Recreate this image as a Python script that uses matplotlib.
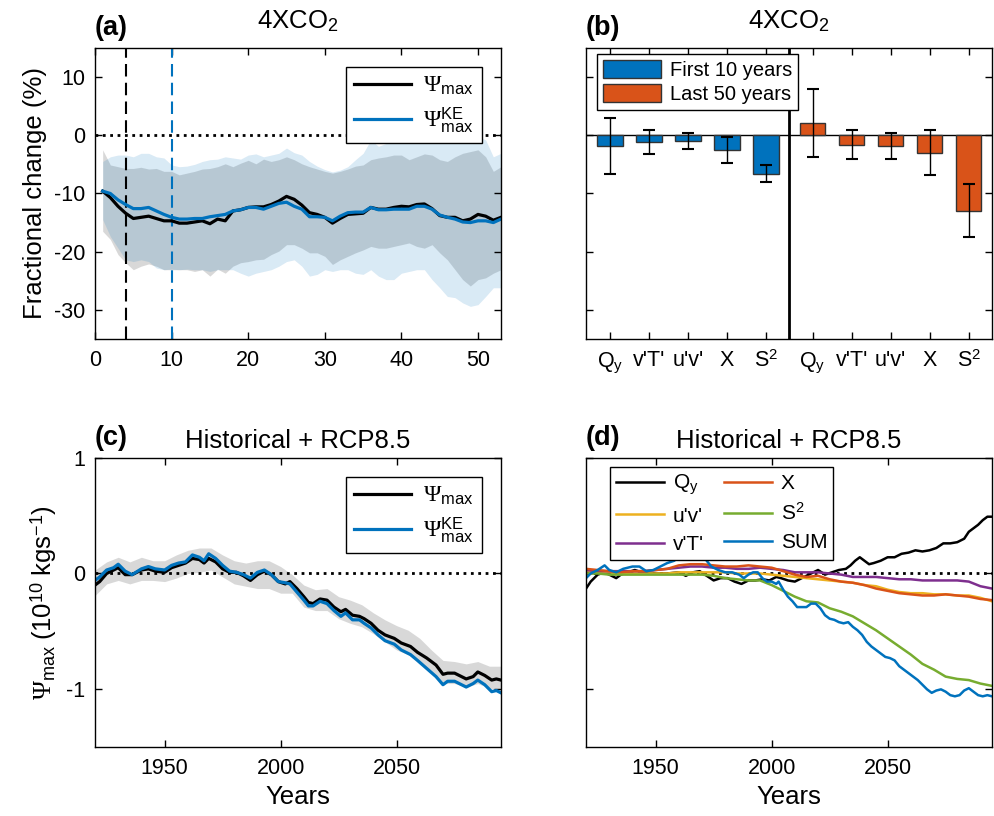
import numpy as np
import matplotlib
matplotlib.use('Agg')
import matplotlib.pyplot as plt

# fonts: sans text, serif Psi (mathtext rm), sans in \mathsf
plt.rcParams['font.family'] = 'Liberation Sans'
plt.rcParams['mathtext.fontset'] = 'custom'
plt.rcParams['mathtext.rm'] = 'Liberation Serif'
plt.rcParams['mathtext.it'] = 'Liberation Serif:italic'
plt.rcParams['mathtext.sf'] = 'Liberation Sans'
plt.rcParams['axes.unicode_minus'] = False
plt.rcParams['axes.linewidth'] = 1.0

BLUE = '#0072BD'
ORANGE = '#D95319'
YELLOW = '#EDB120'
PURPLE = '#7E2F8E'
GREEN = '#77AC30'

# ---------------- panel (a): 4XCO2 fractional change, years 1..53
years_a = np.arange(1, 54)
psi_a = [-9.6, -10.7, -12.2, -13.4, -14.3, -14.1, -13.9, -14.3, -14.7, -14.7,
         -15.1, -15.1, -14.9, -14.7, -15.2, -14.4, -14.7, -13.0, -12.8, -12.4,
         -12.3, -12.3, -11.9, -11.3, -10.5, -11.0, -12.0, -13.3, -13.6, -14.1,
         -15.1, -14.3, -13.6, -13.5, -13.4, -12.4, -12.7, -12.7, -12.4, -12.2,
         -12.3, -11.9, -11.8, -12.6, -13.8, -14.1, -14.1, -14.7, -14.4, -13.6,
         -13.9, -14.6, -14.1]
psi_ke_a = [-9.6, -10.0, -11.1, -11.9, -12.6, -12.6, -12.4, -13.0, -13.6, -14.1,
            -14.4, -14.4, -14.3, -14.3, -14.0, -13.8, -13.6, -13.0, -12.8, -12.4,
            -12.4, -12.7, -12.2, -11.7, -11.5, -12.2, -12.7, -14.0, -14.0, -14.1,
            -14.7, -13.9, -13.3, -13.2, -13.2, -12.4, -12.8, -12.8, -12.7, -12.7,
            -12.7, -12.2, -12.2, -12.7, -13.7, -14.1, -14.4, -14.9, -15.0, -14.7,
            -14.7, -15.0, -14.4]
psi_hi_a = [-2.5, -5.1, -5.4, -5.7, -5.7, -5.5, -5.8, -5.7, -6.2, -6.2,
            -6.8, -6.5, -6.2, -5.8, -5.7, -5.4, -4.9, -5.4, -4.8, -4.3,
            -4.9, -4.1, -4.5, -4.2, -3.7, -4.2, -4.9, -5.4, -5.8, -6.2,
            -6.5, -6.2, -5.8, -5.3, -5.1, -4.2, -3.9, -3.7, -3.4, -3.4,
            -4.2, -3.7, -3.2, -3.4, -4.2, -4.5, -3.7, -3.1, -2.8, -2.5,
            -3.7, -6.2, -5.4]
psi_lo_a = [-16.5, -17.9, -20.5, -21.9, -23.1, -22.5, -22.1, -22.5, -23.1, -23.1,
            -23.1, -23.1, -23.4, -23.1, -24.2, -23.0, -23.7, -22.5, -21.9, -21.7,
            -21.4, -21.3, -20.5, -19.9, -18.8, -18.8, -19.4, -20.2, -20.2, -20.8,
            -22.2, -21.4, -20.8, -20.2, -19.7, -19.1, -19.4, -19.4, -19.1, -18.8,
            -18.5, -19.1, -19.4, -18.8, -20.2, -21.4, -23.1, -24.8, -25.9, -24.8,
            -24.5, -23.7, -23.1]
ke_hi_a = [-4.5, -3.7, -3.4, -3.4, -3.7, -3.1, -3.1, -3.7, -3.9, -5.1,
           -5.4, -5.3, -5.0, -4.5, -4.2, -4.1, -3.7, -3.9, -4.1, -3.4,
           -3.2, -3.7, -3.4, -3.1, -2.2, -3.0, -3.4, -4.5, -5.3, -5.9,
           -6.3, -6.0, -5.4, -4.2, -3.1, -0.8, -1.9, -1.4, -0.8, -0.2,
           -0.8, -0.8, -0.8, -0.7, -1.1, -0.8, -1.4, -0.8, 0.1, -0.2,
           -0.8, -3.7, -3.1]
ke_lo_a = [-14.5, -17.4, -19.4, -21.4, -21.7, -21.4, -21.7, -22.8, -23.1, -23.0,
           -23.1, -23.0, -23.1, -23.1, -23.4, -23.1, -23.1, -23.1, -23.7, -24.2,
           -23.7, -23.4, -23.1, -22.5, -21.7, -21.4, -22.5, -24.2, -23.9, -23.1,
           -23.4, -23.1, -23.1, -23.7, -23.9, -23.1, -24.2, -24.8, -24.8, -23.7,
           -23.4, -23.1, -23.1, -24.8, -26.2, -27.7, -27.9, -28.8, -29.4, -29.1,
           -27.7, -26.2, -26.2]

# ---------------- panel (b): bar decomposition
terms = [r'$\mathsf{Q}_{\mathsf{y}}$', "v'T'", "u'v'", 'X', r'$\mathsf{S}^{\mathsf{2}}$']
first10 = [-1.8, -1.15, -1.0, -2.57, -6.57]
first10_err = [4.85, 2.1, 1.35, 2.2, 1.5]
last50 = [2.1, -1.6, -1.83, -2.97, -13.0]
last50_err = [5.9, 2.5, 2.2, 3.8, 4.55]

# ---------------- panel (c): historical + RCP8.5
years_c = [1920, 1922, 1925, 1928, 1930, 1933, 1936, 1940, 1943, 1946,
           1950, 1953, 1956, 1959, 1962, 1965, 1967, 1969, 1972, 1975,
           1978, 1981, 1984, 1987, 1990, 1993, 1996, 1999, 2002,
           2004, 2007, 2010, 2012, 2014, 2017, 2020, 2023, 2026, 2028,
           2031, 2034, 2036, 2039, 2042, 2045, 2049, 2052, 2056, 2059,
           2063, 2067, 2070, 2072, 2075, 2078, 2080, 2083, 2085, 2088,
           2091, 2093, 2095]
psi_c = [-0.10, -0.07, 0.0, 0.03, 0.05, -0.01, -0.01, 0.03, 0.04, 0.02,
         0.01, 0.05, 0.07, 0.09, 0.13, 0.12, 0.09, 0.13, 0.10, 0.04,
         0.01, 0.01, -0.02, -0.06, -0.01, 0.02, -0.01, -0.07, -0.09,
         -0.07, -0.13, -0.20, -0.25, -0.26, -0.22, -0.23, -0.29, -0.33, -0.31,
         -0.36, -0.37, -0.39, -0.43, -0.49, -0.53, -0.56, -0.60, -0.63, -0.68,
         -0.73, -0.79, -0.87, -0.86, -0.86, -0.89, -0.91, -0.89, -0.85, -0.88,
         -0.92, -0.91, -0.92]
psi_ke_c = [-0.06, -0.03, 0.03, 0.05, 0.08, 0.02, -0.01, 0.04, 0.06, 0.04,
            0.03, 0.07, 0.09, 0.10, 0.16, 0.14, 0.11, 0.17, 0.13, 0.07,
            0.02, 0.01, -0.01, -0.04, 0.01, 0.03, -0.01, -0.07, -0.08,
            -0.09, -0.16, -0.23, -0.28, -0.28, -0.24, -0.26, -0.32, -0.37, -0.34,
            -0.40, -0.40, -0.43, -0.47, -0.53, -0.58, -0.61, -0.66, -0.70, -0.75,
            -0.82, -0.89, -0.96, -0.93, -0.93, -0.96, -0.98, -0.95, -0.92, -0.96,
            -1.02, -1.01, -1.03]
years5 = np.arange(1920, 2096, 5)
band_hi_c = [0.03, 0.10, 0.14, 0.10, 0.14, 0.11, 0.11, 0.16, 0.20, 0.22,
             0.22, 0.16, 0.11, 0.09, 0.11, 0.11, 0.06, -0.01, -0.10, -0.14,
             -0.13, -0.20, -0.23, -0.27, -0.34, -0.40, -0.45, -0.49, -0.56, -0.66,
             -0.75, -0.76, -0.78, -0.76, -0.80, -0.80]
band_lo_c = [-0.19, -0.09, -0.06, -0.09, -0.06, -0.06, -0.07, -0.04, 0.0, 0.01,
             0.03, -0.03, -0.09, -0.11, -0.13, -0.13, -0.17, -0.17, -0.29, -0.32,
             -0.32, -0.39, -0.43, -0.46, -0.52, -0.59, -0.66, -0.70, -0.76, -0.85,
             -0.95, -0.95, -0.98, -0.95, -0.99, -1.01]

# ---------------- panel (d): contributions
years_qy = [1920, 1922, 1925, 1928, 1930, 1933, 1935, 1938, 1941, 1944,
            1947, 1950, 1955, 1960, 1963, 1966, 1969, 1972, 1975, 1978,
            1981, 1984, 1987, 1990, 1993, 1996, 1999, 2002, 2004, 2007,
            2010, 2013, 2016, 2018, 2020, 2023, 2026, 2029, 2032, 2034,
            2036, 2038, 2040, 2042, 2044, 2047, 2050, 2053, 2056, 2059,
            2062, 2065, 2068, 2071, 2074, 2077, 2080, 2083, 2085, 2087,
            2089, 2091, 2093, 2095]
qy_d = [-0.13, -0.07, -0.01, 0.01, -0.01, -0.04, -0.01, 0.01, 0.03, 0.01,
        0.0, 0.0, 0.0, 0.01, -0.02, 0.01, 0.02, -0.02, -0.06, -0.04,
        -0.04, -0.07, -0.09, -0.06, -0.06, -0.05, -0.06, -0.03, -0.04, -0.06,
        -0.07, -0.04, -0.01, 0.01, 0.03, -0.01, 0.01, 0.03, 0.04, 0.07,
        0.11, 0.14, 0.11, 0.08, 0.09, 0.11, 0.14, 0.14, 0.17, 0.18,
        0.20, 0.19, 0.20, 0.22, 0.26, 0.26, 0.27, 0.30, 0.36, 0.39,
        0.42, 0.46, 0.49, 0.49]
uv_d = [0.02, 0.01, 0.01, 0.0, 0.0, 0.0, 0.0, 0.0, 0.01, 0.01,
        0.01, 0.01, 0.01, 0.0, 0.0, 0.0, -0.01, -0.02, -0.03, -0.04,
        -0.05, -0.06, -0.07, -0.08, -0.10, -0.11, -0.14, -0.16, -0.17, -0.17,
        -0.18, -0.18, -0.19, -0.19, -0.21, -0.24]
vt_d = [0.03, 0.02, 0.02, 0.02, 0.02, 0.02, 0.03, 0.04, 0.05, 0.06,
        0.06, 0.05, 0.05, 0.04, 0.04, 0.05, 0.04, 0.03, 0.01, 0.01,
        0.01, 0.0, -0.01, -0.03, -0.03, -0.03, -0.04, -0.05, -0.05, -0.06,
        -0.06, -0.06, -0.06, -0.07, -0.11, -0.13]
x_d = [0.04, 0.03, 0.02, 0.01, 0.02, 0.02, 0.03, 0.04, 0.07, 0.08,
       0.08, 0.07, 0.06, 0.06, 0.07, 0.06, 0.05, 0.02, -0.01, -0.03,
       -0.02, -0.05, -0.07, -0.08, -0.10, -0.13, -0.15, -0.17, -0.18, -0.19,
       -0.19, -0.18, -0.19, -0.20, -0.22, -0.23]
s2_d = [0.0, 0.0, -0.01, -0.01, -0.01, -0.01, -0.01, -0.01, -0.01, -0.01,
        -0.01, -0.02, -0.04, -0.05, -0.06, -0.06, -0.10, -0.15, -0.20, -0.24,
        -0.25, -0.30, -0.33, -0.37, -0.43, -0.49, -0.56, -0.63, -0.70, -0.78,
        -0.83, -0.89, -0.91, -0.92, -0.95, -0.97]
years_sum = [1920, 1922, 1925, 1928, 1930, 1933, 1936, 1940, 1943, 1946,
             1949, 1952, 1955, 1958, 1960, 1962, 1964, 1966, 1968, 1970,
             1972, 1974, 1977, 1980, 1983, 1986, 1988, 1990, 1992, 1994,
             1996, 1998, 2000, 2002, 2003, 2005, 2007, 2009, 2011, 2013,
             2015, 2017, 2019, 2021, 2023, 2025, 2027, 2029, 2031, 2033,
             2035, 2037, 2039, 2041, 2043, 2045, 2047, 2049, 2051, 2053,
             2055, 2057, 2059, 2061, 2063, 2065, 2067, 2069, 2071, 2073,
             2075, 2077, 2079, 2081, 2083, 2085, 2087, 2089, 2091, 2093, 2095]
sum_d = [-0.04, 0.0, 0.03, 0.07, 0.03, 0.01, 0.04, 0.06, 0.06, 0.02,
         0.03, 0.06, 0.09, 0.11, 0.14, 0.16, 0.14, 0.13, 0.17, 0.16,
         0.11, 0.06, 0.03, 0.01, 0.01, -0.01, -0.04, -0.01, 0.01, 0.01,
         -0.04, -0.07, -0.07, -0.09, -0.07, -0.14, -0.20, -0.24, -0.29, -0.29,
         -0.29, -0.26, -0.26, -0.30, -0.36, -0.39, -0.40, -0.42, -0.43, -0.42,
         -0.46, -0.49, -0.53, -0.59, -0.63, -0.66, -0.69, -0.72, -0.73, -0.75,
         -0.80, -0.83, -0.86, -0.89, -0.92, -0.96, -1.00, -1.03, -1.01, -1.00,
         -1.02, -1.05, -1.06, -1.05, -1.01, -0.99, -1.02, -1.05, -1.06, -1.05, -1.06]

PSI = r'$\Psi_{\mathsf{max}}$'
PSI_KE = r'$\Psi^{\mathsf{KE}}_{\mathsf{max}}$'
TICK_FS = 15.5
LABEL_FS = 18.5
TITLE_FS = 18.5
LEG_FS = 14.5


def style_axes(ax):
    ax.tick_params(direction='in', top=True, right=True, length=5, width=1,
                   labelsize=TICK_FS)
    ax.tick_params(axis='x', pad=8)
    ax.tick_params(axis='y', pad=7)


def panel_label(ax, s):
    ax.text(0, 1.045, s, transform=ax.transAxes, fontsize=19.5,
            fontweight='bold', ha='left', va='baseline')


def legend_box(leg):
    fr = leg.get_frame()
    fr.set_edgecolor('k')
    fr.set_linewidth(1.0)
    fr.set_alpha(1)


def psi_legend(ax, anchor):
    leg = ax.legend(loc='upper right', bbox_to_anchor=anchor, borderaxespad=0,
                    fontsize=17, fancybox=False, handlelength=2.4,
                    handletextpad=0.5, labelspacing=0.35, borderpad=0.35)
    legend_box(leg)


fig = plt.figure(figsize=(9.95, 8.16), dpi=100)
ax_a = fig.add_axes([0.0955, 0.5846, 0.408, 0.3566])
ax_b = fig.add_axes([0.589, 0.5846, 0.408, 0.3566])
ax_c = fig.add_axes([0.0955, 0.0842, 0.408, 0.355])
ax_d = fig.add_axes([0.589, 0.0842, 0.408, 0.355])

# (a)
ax_a.fill_between(years_a, psi_lo_a, psi_hi_a, color=(0.5, 0.5, 0.5), alpha=0.3, lw=0)
ax_a.fill_between(years_a, ke_lo_a, ke_hi_a, color=BLUE, alpha=0.15, lw=0)
ax_a.axhline(0, color='k', ls=':', lw=2)
ax_a.axvline(4, color='k', ls=(0, (6, 3)), lw=1.5)
ax_a.axvline(10, color=BLUE, ls=(0, (6, 3)), lw=1.5)
ax_a.plot(years_a, psi_a, color='k', lw=2.3, label=PSI)
ax_a.plot(years_a, psi_ke_a, color=BLUE, lw=2.3, label=PSI_KE)
ax_a.set_xlim(0, 53)
ax_a.set_ylim(-35, 15)
ax_a.set_xticks([0, 10, 20, 30, 40, 50])
ax_a.set_yticks([-30, -20, -10, 0, 10])
ax_a.set_ylabel('Fractional change (%)', fontsize=LABEL_FS, labelpad=5)
ax_a.set_title(r'$\mathsf{4XCO}_{\mathsf{2}}$', fontsize=TITLE_FS, pad=14)
style_axes(ax_a)
panel_label(ax_a, '(a)')
psi_legend(ax_a, (0.953, 0.935))

# (b)
x1 = np.arange(1, 6)
x2 = x1 + 5.2
err_kw = dict(elinewidth=1, capthick=1.5, ecolor='k')
ax_b.bar(x1, first10, width=0.66, color=BLUE, edgecolor='#333333', lw=1,
         yerr=first10_err, capsize=4, error_kw=err_kw, label='First 10 years')
ax_b.bar(x2, last50, width=0.66, color=ORANGE, edgecolor='#333333', lw=1,
         yerr=last50_err, capsize=4, error_kw=err_kw, label='Last 50 years')
ax_b.axhline(0, color='k', lw=1, zorder=0.5)
ax_b.axvline(5.6, color='k', lw=2)
ax_b.set_xlim(0.39, 10.8)
ax_b.set_ylim(-35, 15)
ax_b.set_xticks(np.concatenate([x1, x2]))
ax_b.set_xticklabels(terms + terms)
ax_b.set_yticks([-30, -20, -10, 0, 10])
ax_b.set_yticklabels([])
ax_b.set_title(r'$\mathsf{4XCO}_{\mathsf{2}}$', fontsize=TITLE_FS, pad=14)
style_axes(ax_b)
panel_label(ax_b, '(b)')
leg = ax_b.legend(loc='upper left', bbox_to_anchor=(0.027, 0.979), borderaxespad=0,
                  fontsize=LEG_FS, fancybox=False, handlelength=2.9, handleheight=1.0,
                  handletextpad=0.4, labelspacing=0.2, borderpad=0.3)
legend_box(leg)

# (c)
ax_c.fill_between(years5, band_lo_c, band_hi_c, color=(0.5, 0.5, 0.5), alpha=0.3, lw=0)
ax_c.axhline(0, color='k', ls=':', lw=2)
ax_c.plot(years_c, psi_c, color='k', lw=2.3, label=PSI)
ax_c.plot(years_c, psi_ke_c, color=BLUE, lw=2.3, label=PSI_KE)
ax_c.set_xlim(1920, 2095)
ax_c.set_ylim(-1.5, 1)
ax_c.set_xticks([1950, 2000, 2050])
ax_c.set_yticks([-1, 0, 1])
ax_c.set_xlabel('Years', fontsize=LABEL_FS)
ax_c.set_ylabel(r'$\Psi_{\mathsf{max}}\ \mathsf{(10}^{\mathsf{10}}\mathsf{\ kgs}^{\mathsf{-1}}\mathsf{)}$',
                fontsize=LABEL_FS, labelpad=5)
ax_c.set_title('Historical + RCP8.5', fontsize=TITLE_FS, pad=7)
style_axes(ax_c)
panel_label(ax_c, '(c)')
psi_legend(ax_c, (0.953, 0.934))

# (d)
ax_d.axhline(0, color='k', ls=':', lw=2)
ax_d.plot(years_qy, qy_d, color='k', lw=1.8, label=r'$\mathsf{Q}_{\mathsf{y}}$')
ax_d.plot(years5, uv_d, color=YELLOW, lw=1.8, label="u'v'")
ax_d.plot(years5, vt_d, color=PURPLE, lw=1.8, label="v'T'")
ax_d.plot(years5, x_d, color=ORANGE, lw=1.8, label='X')
ax_d.plot(years5, s2_d, color=GREEN, lw=1.8, label=r'$\mathsf{S}^{\mathsf{2}}$')
ax_d.plot(years_sum, sum_d, color=BLUE, lw=1.8, label='SUM')
ax_d.set_xlim(1920, 2095)
ax_d.set_ylim(-1.5, 1)
ax_d.set_xticks([1950, 2000, 2050])
ax_d.set_yticks([-1, 0, 1])
ax_d.set_yticklabels([])
ax_d.set_xlabel('Years', fontsize=LABEL_FS)
ax_d.set_title('Historical + RCP8.5', fontsize=TITLE_FS, pad=7)
style_axes(ax_d)
panel_label(ax_d, '(d)')
leg = ax_d.legend(loc='upper left', bbox_to_anchor=(0.059, 0.968), borderaxespad=0,
                  ncol=2, fontsize=15, fancybox=False, handlelength=2.3,
                  handletextpad=0.4, labelspacing=0.45, columnspacing=1.0,
                  borderpad=0.3)
legend_box(leg)

fig.savefig('out.png', dpi=100)
